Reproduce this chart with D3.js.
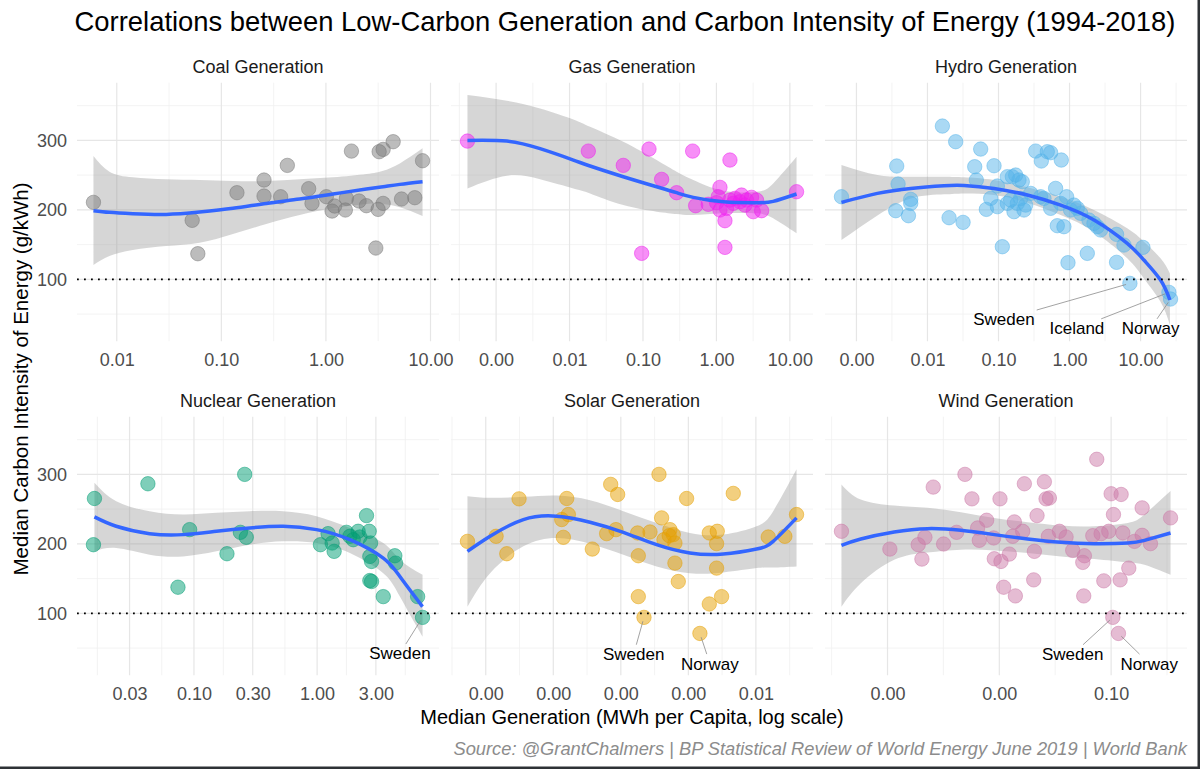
<!DOCTYPE html>
<html><head><meta charset="utf-8">
<script src="https://cdn.jsdelivr.net/npm/d3@7"></script>
<style>body{margin:0;background:#fff}svg{display:block}</style>
</head><body>
<svg id="chart" width="1200" height="769"></svg>
<script>
// ---------------- DATA (generation stored as log10 of MWh per capita) ----------------
const titleText = "Correlations between Low-Carbon Generation and Carbon Intensity of Energy (1994-2018)";
const xAxisTitle = "Median Generation (MWh per Capita, log scale)";
const yAxisTitle = "Median Carbon Intensity of Energy (g/kWh)";
const captionText = "Source: @GrantChalmers | BP Statistical Review of World Energy June 2019 | World Bank";
const panelTitles = ["Coal Generation","Gas Generation","Hydro Generation","Nuclear Generation","Solar Generation","Wind Generation"];
const panelColors = ["#7a7a7a","#f020f0","#56B4E9","#009E73","#E69F00","#CC79A7"];

const yTicks = [100, 200, 300];
const yMinorTicks = [50, 150, 250, 350];
const yDomain = [11, 383];
const referenceLine = 100;

const coalTicks = [0.01, 0.1, 1, 10];
const gasTicks = [0.001, 0.01, 0.1, 1, 10];
const hydroTicks = [0.001, 0.01, 0.1, 1, 10];
const nuclearTicks = [0.03, 0.1, 0.3, 1, 3];
const solarTicks = [1e-6, 1e-5, 1e-4, 1e-3, 1e-2];
const windTicks = [1e-5, 1e-3, 1e-1];

// Coal
const coalGenLog10 = [-2.223,-1.279,-1.225,-0.851,-0.592,-0.592,-0.433,-0.369,-0.165,-0.133,0.004,0.059,0.084,0.186,0.196,0.244,0.317,0.387,0.477,0.499,0.509,0.547,0.547,0.643,0.723,0.850,0.924];
const coalCI = [210.8,184.9,136.9,224.7,242.9,219.9,218.9,264.0,230.5,209.3,218.9,198.3,205.5,199.8,216.5,284.6,212.7,206.0,145.1,200.7,283.7,287.0,209.3,298.1,215.6,217.5,270.7];
const coalFitGenLog10 = [-2.223,-2.070,-1.847,-1.528,-1.208,-0.889,-0.570,-0.251,0.068,0.387,0.547,0.707,0.924];
const coalFit = [198.8,196.4,194.5,193.5,196.9,202.2,209.3,215.6,222.8,230.0,233.3,236.7,240.5];
const coalFitLow = [120.6,133.6,142.2,148.0,152.8,165.3,179.6,192.6,202.2,208.4,208.4,203.6,191.1];
const coalFitHigh = [277.5,254.9,246.8,243.9,242.9,241.5,241.5,243.9,246.8,251.6,256.3,266.9,288.5];

// Gas
const gasGenLog10 = [-3.390,-1.744,-1.268,-1.018,-0.918,-0.746,-0.542,-0.324,-0.283,-0.111,0.048,0.025,0.048,0.116,0.116,0.184,0.184,0.252,0.320,0.342,0.410,0.478,0.501,0.546,0.615,1.091,0.002,0.138,0.229,0.388];
const gasCI = [299.0,284.6,264.0,137.4,287.5,243.9,224.7,284.6,206.0,208.0,232.4,218.9,199.8,184.4,146.0,271.7,214.1,216.5,211.7,221.3,214.1,218.0,197.4,214.1,198.8,226.1,210.3,202.2,209.3,206.9];
const gasFitGenLog10 = [-3.390,-2.855,-2.401,-1.948,-1.721,-1.268,-0.814,-0.542,-0.315,0.093,0.546,0.773,1.091];
const gasFit = [300.0,299.0,288.1,271.7,263.1,247.7,233.3,224.7,218.0,211.7,210.3,212.2,222.8];
const gasFitLow = [230.9,249.2,243.9,230.9,223.7,206.9,197.4,194.0,192.6,195.0,195.0,187.8,166.2];
const gasFitHigh = [365.2,357.1,346.0,330.2,319.7,298.1,271.7,254.9,242.9,227.6,226.1,238.1,276.5];

// Hydro
const hydroGenLog10 = [-3.211,-2.433,-2.414,-2.447,-2.236,-2.236,-2.268,-1.790,-1.603,-1.696,-1.499,-1.335,-1.312,-1.251,-1.171,-1.110,-1.063,-1.016,-0.946,-0.876,-0.805,-0.782,-0.758,-0.735,-0.712,-0.665,-0.641,-0.618,-0.688,-0.829,-0.477,-0.397,-0.313,-0.266,-0.116,-0.196,-0.266,-0.172,-0.079,-0.041,-0.125,-0.022,0.015,0.109,0.156,0.250,0.273,0.390,0.437,0.662,0.662,0.766,0.850,1.033,1.399,1.422,-0.360,-1.016,-0.876,-0.547,-0.407,0.062,0.344];
const hydroCI = [218.9,263.1,237.2,198.8,215.1,209.3,191.6,320.6,298.1,188.7,182.0,262.1,242.9,287.5,200.7,216.5,263.5,234.3,147.0,209.3,247.7,197.4,250.1,209.3,242.9,240.5,199.8,206.9,216.5,214.1,284.6,270.3,283.7,282.3,271.7,230.9,202.2,177.2,175.8,218.9,209.3,124.0,199.8,202.2,195.0,137.4,185.4,175.8,171.0,164.7,124.5,149.4,94.2,146.0,81.3,71.7,216.5,204.6,247.7,223.7,218.9,206.9,180.6];
const hydroFitGenLog10 = [-3.211,-2.705,-2.236,-1.767,-1.485,-1.063,-0.594,-0.125,0.344,0.812,1.047,1.281,1.413];
const hydroFit = [210.8,223.7,230.9,234.8,235.2,230.9,221.3,206.9,185.4,151.8,127.8,99.0,70.3];
const hydroFitLow = [156.6,192.0,216.5,222.3,223.7,221.3,210.3,192.6,168.6,130.2,101.4,67.9,34.3];
const hydroFitHigh = [264.5,250.1,247.7,247.7,246.8,242.9,232.4,218.9,199.8,173.4,154.2,130.2,108.6];

// Nuclear
const nuclearGenLog10 = [-1.808,-1.816,-1.374,-1.130,-1.035,-0.732,-0.588,-0.623,-0.575,0.027,0.089,0.122,0.138,0.238,0.266,0.333,0.347,0.401,0.423,0.434,0.428,0.442,0.428,0.442,0.537,0.631,0.637,0.816,0.856,0.293];
const nuclearCI = [265.3,198.8,286.5,137.6,220.5,185.8,300.0,216.6,209.4,198.8,214.7,201.2,189.2,216.6,210.9,218.1,209.9,240.7,218.1,201.2,181.9,174.7,147.2,145.8,124.1,182.9,172.3,124.1,94.2,206.0];
const nuclearFitGenLog10 = [-1.808,-1.631,-1.360,-1.089,-0.818,-0.547,-0.276,-0.005,0.266,0.537,0.672,0.856];
const nuclearFit = [238.8,225.3,214.7,213.3,218.1,222.9,225.3,220.5,206.0,179.5,153.0,109.6];
const nuclearFitLow = [189.2,194.0,184.4,181.9,189.2,198.8,203.6,201.2,186.8,157.8,124.1,66.3];
const nuclearFitHigh = [288.0,261.5,247.0,242.2,244.6,247.0,247.0,239.8,222.9,201.2,177.1,155.4];

// Solar
const solarGenLog10 = [-6.271,-5.847,-5.689,-5.507,-4.875,-4.851,-4.801,-4.777,-4.422,-4.210,-4.150,-4.047,-4.072,-3.741,-3.741,-3.657,-3.751,-3.568,-3.435,-3.396,-3.361,-3.273,-3.223,-3.199,-3.199,-3.149,-3.026,-2.829,-2.690,-2.690,-2.572,-2.582,-2.582,-2.508,-2.335,-1.817,-1.571,-1.398,-3.283];
const solarCI = [203.6,210.9,185.8,264.8,235.0,209.4,265.3,242.2,192.5,214.7,285.6,271.1,220.5,182.9,124.1,94.2,215.7,217.1,300.0,237.4,206.0,220.5,213.3,201.2,172.3,145.8,265.3,71.1,215.7,113.5,218.1,200.3,165.1,124.1,272.6,209.9,210.9,242.2,211.8];
const solarFitGenLog10 = [-6.271,-5.936,-5.443,-4.949,-4.456,-3.963,-3.470,-2.977,-2.483,-1.990,-1.744,-1.398];
const solarFit = [189.2,210.9,235.0,239.8,231.1,216.6,198.8,186.8,185.3,192.5,203.6,237.4];
const solarFitLow = [109.6,157.8,196.4,208.5,200.3,184.4,167.5,157.8,158.8,165.1,166.0,167.5];
const solarFitHigh = [268.7,266.3,267.7,269.6,262.8,247.0,230.1,215.7,213.3,225.3,247.0,307.3];

// Wind
const windGenLog10 = [-5.824,-4.958,-4.451,-4.385,-4.331,-4.182,-3.997,-3.764,-3.615,-3.490,-3.388,-3.358,-3.227,-3.101,-3.090,-2.988,-2.970,-2.922,-2.821,-2.761,-2.731,-2.713,-2.582,-2.552,-2.385,-2.373,-2.325,-2.194,-2.164,-2.104,-2.122,-1.925,-1.806,-1.687,-1.507,-1.478,-1.490,-1.328,-1.257,-1.179,-1.131,-1.042,-1.000,-0.958,-0.970,-0.869,-0.839,-0.821,-0.791,-0.684,-0.582,-0.445,-0.445,-0.296,0.063];
const windCI = [218.1,192.5,198.8,178.1,209.4,281.7,199.8,216.6,300.0,264.8,222.9,205.1,234.0,208.5,178.6,264.8,174.7,137.6,185.3,210.9,231.6,125.1,218.1,286.5,148.2,189.2,240.7,289.4,264.8,266.0,210.9,218.1,209.9,190.6,173.3,182.9,125.1,211.8,321.7,214.7,146.8,218.1,272.1,242.2,94.2,71.1,148.2,271.1,215.7,165.1,203.6,251.8,212.3,200.3,237.4];
const windFitGenLog10 = [-5.824,-5.478,-4.881,-4.284,-3.687,-3.090,-2.493,-1.896,-1.299,-0.701,-0.403,0.063];
const windFit = [197.8,207.0,217.1,221.9,219.5,213.3,207.0,202.2,200.3,201.2,205.1,215.7];
const windFitLow = [109.6,143.4,177.1,187.7,191.6,190.6,186.8,181.9,178.1,173.3,169.9,155.4];
const windFitHigh = [285.6,263.9,255.2,251.8,245.6,237.4,231.1,226.3,225.3,230.1,242.2,275.9];

// Country annotations: name, index of the point, label position (log10 generation, g/kWh)
const hydroLabelNames = ["Sweden","Iceland","Norway"];
const hydroLabelPoint = [52, 54, 55];
const hydroLabelGenLog10 = [-0.923, 0.104, 1.141];
const hydroLabelCI = [42.4, 29.5, 29.5];
const nuclearLabelNames = ["Sweden"];
const nuclearLabelPoint = [28];
const nuclearLabelGenLog10 = [0.672];
const nuclearLabelCI = [42.2];
const solarLabelNames = ["Sweden","Norway"];
const solarLabelPoint = [15, 27];
const solarLabelGenLog10 = [-3.810, -2.681];
const solarLabelCI = [41.2, 27.7];
const windLabelNames = ["Sweden","Norway"];
const windLabelPoint = [44, 45];
const windLabelGenLog10 = [-1.687, -0.319];
const windLabelCI = [41.2, 27.7];

// ---------------- LAYOUT ----------------
const FONT = '"Liberation Sans", Arial, Helvetica, sans-serif';
const panelLeft = [77, 451, 825];
const rowTop = [82.7, 416.7];
const panelW = 362, panelH = 258.5;

const pow10 = v => Math.pow(10, v);
function mk(i, genL, ci, ticks, fx, fy, flo, fhi, lnames, lpt, lgx, lci) {
  return {
    title: panelTitles[i], color: panelColors[i], col: i % 3, row: Math.floor(i / 3),
    points: genL.map((g, k) => ({gen: pow10(g), ci: ci[k]})),
    ticks,
    fit: fx.map((g, k) => ({gen: pow10(g), y: fy[k], lo: flo[k], hi: fhi[k]})),
    labels: (lnames || []).map((n, k) => ({name: n, pt: lpt[k], gen: pow10(lgx[k]), ci: lci[k]}))
  };
}
const panels = [
  mk(0, coalGenLog10, coalCI, coalTicks, coalFitGenLog10, coalFit, coalFitLow, coalFitHigh),
  mk(1, gasGenLog10, gasCI, gasTicks, gasFitGenLog10, gasFit, gasFitLow, gasFitHigh),
  mk(2, hydroGenLog10, hydroCI, hydroTicks, hydroFitGenLog10, hydroFit, hydroFitLow, hydroFitHigh, hydroLabelNames, hydroLabelPoint, hydroLabelGenLog10, hydroLabelCI),
  mk(3, nuclearGenLog10, nuclearCI, nuclearTicks, nuclearFitGenLog10, nuclearFit, nuclearFitLow, nuclearFitHigh, nuclearLabelNames, nuclearLabelPoint, nuclearLabelGenLog10, nuclearLabelCI),
  mk(4, solarGenLog10, solarCI, solarTicks, solarFitGenLog10, solarFit, solarFitLow, solarFitHigh, solarLabelNames, solarLabelPoint, solarLabelGenLog10, solarLabelCI),
  mk(5, windGenLog10, windCI, windTicks, windFitGenLog10, windFit, windFitLow, windFitHigh, windLabelNames, windLabelPoint, windLabelGenLog10, windLabelCI)
];

const svg = d3.select("#chart");
svg.append("rect").attr("width", 1200).attr("height", 769).attr("fill", "#fff");

const y = d3.scaleLinear().domain(yDomain).range([panelH, 0]);

panels.forEach((p, pi) => {
  const lg = p.points.map(d => Math.log10(d.gen));
  const lo = d3.min(lg), hi = d3.max(lg), span = hi - lo;
  const x = d3.scaleLog().domain([pow10(lo - 0.05 * span), pow10(hi + 0.05 * span)]).range([0, panelW]);
  const g = svg.append("g").attr("transform", `translate(${panelLeft[p.col]},${rowTop[p.row]})`);
  const clipId = "clip" + pi;
  g.append("clipPath").attr("id", clipId).append("rect").attr("width", panelW).attr("height", panelH);

  // minor x breaks (midpoints in log space, extended one half-step beyond the ends)
  const ml = p.ticks.map(Math.log10);
  const minors = [];
  for (let k = 0; k < ml.length - 1; k++) minors.push((ml[k] + ml[k + 1]) / 2);
  minors.push(ml[0] - (ml[1] - ml[0]) / 2, ml[ml.length - 1] + (ml[ml.length - 1] - ml[ml.length - 2]) / 2);
  const [d0, d1] = x.domain().map(Math.log10);
  const minorX = minors.filter(v => v >= d0 && v <= d1).map(pow10);

  const grid = g.append("g");
  grid.selectAll(".ymin").data(yMinorTicks).join("line")
    .attr("x1", 0).attr("x2", panelW).attr("y1", d => y(d)).attr("y2", d => y(d))
    .attr("stroke", "#f0f0f0").attr("stroke-width", 0.8);
  grid.selectAll(".xmin").data(minorX).join("line")
    .attr("x1", d => x(d)).attr("x2", d => x(d)).attr("y1", 0).attr("y2", panelH)
    .attr("stroke", "#f0f0f0").attr("stroke-width", 0.8);
  grid.selectAll(".ymaj").data(yTicks).join("line")
    .attr("x1", 0).attr("x2", panelW).attr("y1", d => y(d)).attr("y2", d => y(d))
    .attr("stroke", "#e6e6e6").attr("stroke-width", 1.2);
  grid.selectAll(".xmaj").data(p.ticks).join("line")
    .attr("x1", d => x(d)).attr("x2", d => x(d)).attr("y1", 0).attr("y2", panelH)
    .attr("stroke", "#e6e6e6").attr("stroke-width", 1.2);

  const plot = g.append("g").attr("clip-path", `url(#${clipId})`);
  // ribbon
  plot.append("path").datum(p.fit)
    .attr("d", d3.area().x(d => x(d.gen)).y0(d => y(d.lo)).y1(d => y(d.hi)).curve(d3.curveNatural))
    .attr("fill", "#999999").attr("fill-opacity", 0.4);
  // points
  plot.selectAll("circle").data(p.points).join("circle")
    .attr("cx", d => x(d.gen)).attr("cy", d => y(d.ci)).attr("r", 7.2)
    .attr("fill", p.color).attr("fill-opacity", 0.5)
    .attr("stroke", p.color).attr("stroke-opacity", 0.5).attr("stroke-width", 1);
  // smooth line
  plot.append("path").datum(p.fit)
    .attr("d", d3.line().x(d => x(d.gen)).y(d => y(d.y)).curve(d3.curveNatural))
    .attr("fill", "none").attr("stroke", "#3366FF").attr("stroke-width", 3.5);
  // reference line
  plot.append("line").attr("x1", 0).attr("x2", panelW)
    .attr("y1", y(referenceLine)).attr("y2", y(referenceLine))
    .attr("stroke", "#000").attr("stroke-width", 1.8).attr("stroke-dasharray", "1.8,5.2");

  // labels
  p.labels.forEach(l => {
    const pt = p.points[l.pt];
    const px = x(pt.gen), py = y(pt.ci);
    const lx = x(l.gen), ly = y(l.ci);
    const t = g.append("text").attr("x", lx).attr("y", ly).attr("dy", "0.35em")
      .attr("text-anchor", "middle").attr("font-family", FONT).attr("font-size", 17)
      .attr("fill", "#000").text(l.name);
    const bb = t.node().getBBox();
    const dx = px - lx, dy = py - ly;
    const hw = bb.width / 2 + 2, hh = bb.height / 2;
    const t0 = Math.min(dx !== 0 ? hw / Math.abs(dx) : Infinity, dy !== 0 ? hh / Math.abs(dy) : Infinity);
    const len = Math.hypot(dx, dy);
    const t1 = 1 - 4 / len;
    if (t1 > t0) {
      g.insert("line", "text").attr("x1", lx + dx * t0).attr("y1", ly + dy * t0)
        .attr("x2", lx + dx * t1).attr("y2", ly + dy * t1)
        .attr("stroke", "#8c8c8c").attr("stroke-width", 0.8);
    }
  });

  // x axis
  const gx = g.append("g").attr("transform", `translate(0,${panelH})`)
    .call(d3.axisBottom(x).tickValues(p.ticks).tickFormat(d3.format(".2f")).tickSize(0).tickPadding(12));
  gx.select(".domain").remove();
  gx.selectAll("text").attr("font-family", FONT).attr("font-size", 18).attr("fill", "#4d4d4d");

  // y axis only on left column
  if (p.col === 0) {
    const gy = g.append("g").call(d3.axisLeft(y).tickValues(yTicks).tickFormat(d3.format("d")).tickSize(0).tickPadding(10));
    gy.select(".domain").remove();
    gy.selectAll("text").attr("font-family", FONT).attr("font-size", 18).attr("fill", "#4d4d4d");
  }

  // strip title
  g.append("text").attr("x", panelW / 2).attr("y", -9.6).attr("text-anchor", "middle")
    .attr("font-family", FONT).attr("font-size", 18).attr("fill", "#1a1a1a").text(p.title);
});

// titles
svg.append("text").attr("x", 625).attr("y", 31).attr("text-anchor", "middle")
  .attr("font-family", FONT).attr("font-size", 27.4).attr("fill", "#000").text(titleText);
svg.append("text").attr("x", 632).attr("y", 723.5).attr("text-anchor", "middle")
  .attr("font-family", FONT).attr("font-size", 20).attr("fill", "#000").text(xAxisTitle);
svg.append("text").attr("transform", `translate(28,${(rowTop[0] + rowTop[1] + panelH) / 2}) rotate(-90)`)
  .attr("text-anchor", "middle").attr("font-family", FONT).attr("font-size", 20.5).attr("fill", "#000").text(yAxisTitle);
svg.append("text").attr("x", 1187).attr("y", 754.5).attr("text-anchor", "end")
  .attr("font-family", FONT).attr("font-size", 18.3).attr("font-style", "italic").attr("fill", "#8c8c8c").text(captionText);

// frame edges
svg.append("rect").attr("x", 1197.5).attr("y", 0).attr("width", 2.5).attr("height", 769).attr("fill", "#2e3236");
svg.append("rect").attr("x", 0).attr("y", 766.5).attr("width", 1200).attr("height", 2.5).attr("fill", "#2e3236");
</script>
</body></html>
